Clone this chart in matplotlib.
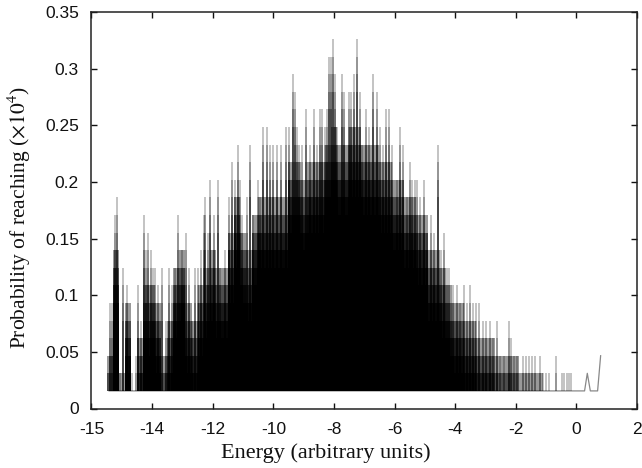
import matplotlib
matplotlib.use("Agg")
import matplotlib.pyplot as plt
import numpy as np

plt.rcParams['mathtext.fontset'] = 'stix'

LEVEL_STEP = 0.01553

spike_energy = [-15.38,-15.31,-15.21,-15.15,-15.05,-14.95,-14.82,-14.72,-14.65,-14.52,-14.46,-14.36,-14.26,-14.19,-14.13,-14.03,-13.96,-13.89,-13.79,-13.66,-13.53,-13.43,-13.33,-13.23,-13.13,-13.03,-12.94,-12.87,-12.77,-12.67,-12.57,-12.48,-12.38,-12.28,-12.24,-12.15,-12.08,-11.95,-11.82,-11.75,-11.58,-11.45,-11.35,-11.25,-11.16,-11.09,-11.02,-10.86,-10.76,-10.66,-10.49,-10.43,-10.33,-10.20,-10.10,-10.00,-9.87,-9.74,-9.57,-9.47,-9.34,-9.28,-9.21,-9.14,-9.04,-8.91,-8.78,-8.65,-8.55,-8.45,-8.38,-8.28,-8.22,-8.15,-8.09,-8.02,-7.97,-7.89,-7.72,-7.66,-7.49,-7.43,-7.33,-7.23,-7.13,-7.06,-6.93,-6.83,-6.70,-6.57,-6.47,-6.37,-6.27,-6.17,-6.07,-5.91,-5.81,-5.71,-5.58,-5.48,-5.41,-5.31,-5.25,-5.15,-5.02,-4.92,-4.79,-4.69,-4.55,-4.46,-4.36,-4.26,-4.19,-4.06,-3.93,-3.83,-3.70,-3.60,-3.50,-3.40,-3.30,-3.20,-3.07,-2.97,-2.84,-2.74,-2.61,-2.51,-2.38,-2.24,-2.15,-2.05,-1.95,-1.75,-1.65,-1.55,-1.45,-1.35,-1.19,-1.09,-0.99,-0.89,-0.66,-0.46,-0.40,-0.30,-0.23,-0.17]
spike_level = [6,6,11,12,2,8,7,3,2,3,7,5,11,9,10,9,8,8,7,8,5,8,7,8,11,9,8,10,8,5,8,8,9,11,12,10,13,11,13,8,9,12,14,13,15,13,11,12,15,11,13,12,16,16,15,15,15,15,16,16,19,18,16,15,15,17,15,17,15,17,17,16,17,20,20,21,19,16,19,18,18,18,19,21,18,15,17,16,19,18,16,15,17,17,15,13,16,15,12,14,13,13,13,12,13,10,11,10,15,9,10,8,8,7,7,6,7,6,7,6,6,6,5,5,5,4,5,3,3,5,4,3,3,3,3,3,3,3,3,2,2,2,3,2,2,2,2,2]

body_energy = [-15.4,-15.2,-15.0,-14.8,-14.6,-14.4,-14.2,-14.0,-13.8,-13.6,-13.4,-13.2,-13.0,-12.8,-12.6,-12.4,-12.2,-12.0,-11.8,-11.6,-11.4,-11.2,-11.0,-10.8,-10.6,-10.4,-10.2,-10.0,-9.8,-9.6,-9.4,-9.2,-9.0,-8.8,-8.6,-8.4,-8.2,-8.0,-7.8,-7.6,-7.4,-7.2,-7.0,-6.8,-6.6,-6.4,-6.2,-6.0,-5.8,-5.6,-5.4,-5.2,-5.0,-4.8,-4.6,-4.4,-4.2,-4.0,-3.8,-3.6,-3.4,-3.2,-3.0,-2.8,-2.6,-2.4,-2.2,-2.0,-1.8,-1.6,-1.4,-1.2,-1.0]
body_level = [3,9,2,6,1,4,7,7,6,3,5,8,9,6,5,7,8,9,8,8,10,12,10,9,11,12,12,12,12,12,14,14,13,14,14,14,15,16,15,15,16,16,15,15,15,14,14,13,13,12,12,11,11,9,9,8,7,6,6,5,5,4,4,4,3,3,3,3,2,2,2,2,1]

tail_energy = [-15.42,-0.15,-0.12,0.27,0.36,0.46,0.70,0.80]
tail_level = [1,1,1,1,2,1,1,3]

x_ticks = [-16,-14,-12,-10,-8,-6,-4,-2,0,2]
x_tick_labels = ['-15','-14','-12','-10','-8','-6','-4','-2','0','2']
y_ticks = [0,0.05,0.1,0.15,0.2,0.25,0.3,0.35]
y_tick_labels = ['0','0.05','0.1','0.15','0.2','0.25','0.3','0.35']

fig = plt.figure(figsize=(6.42,4.68),dpi=100)
ax = fig.add_axes([91.5/642,1-408.5/468,(637-91.5)/642,(408.5-12)/468])

ax.plot(tail_energy, np.array(tail_level)*LEVEL_STEP, color='#888888', lw=0.9, zorder=0.5)

be = np.array(body_energy); bl = np.array(body_level)
for off, a in [(0,0.4),(1,0.5),(2,0.65),(3,0.8),(4,0.9)]:
    tops = np.maximum(bl-off,1)*LEVEL_STEP
    ax.bar(be, tops-LEVEL_STEP, bottom=LEVEL_STEP, width=0.2, color='black', alpha=a, lw=0, align='center', zorder=1)

se = np.array(spike_energy); sl = np.array(spike_level)
for off, a in [(0,0.3),(1,0.3),(2,0.35),(3,0.45)]:
    ax.vlines(se, LEVEL_STEP, np.maximum(sl-off,1)*LEVEL_STEP, colors='black', alpha=a, lw=1.1, zorder=1.5)

ax.set_xlim(-16,2); ax.set_ylim(0,0.35)
ax.set_xticks(x_ticks); ax.set_xticklabels(x_tick_labels)
ax.set_yticks(y_ticks); ax.set_yticklabels(y_tick_labels)
ax.tick_params(direction='in',length=4,width=1,top=True,right=True,colors='#111111')
ax.tick_params(axis='x',pad=10)
ax.tick_params(axis='y',pad=9)
for lab in ax.get_xticklabels()+ax.get_yticklabels():
    lab.set_fontfamily('Liberation Sans'); lab.set_fontsize(12.5)
for s in ax.spines.values():
    s.set_linewidth(1.1); s.set_color('#222222')

fig.text(326/642,1-453/468,'Energy (arbitrary units)',family='Liberation Serif',fontsize=16,ha='center',va='center',color='#111111')
fig.text(19/642,1-217/468,r'Probability of reaching ($\times 10^4$)',family='Liberation Serif',fontsize=15.5,rotation=90,ha='center',va='center',color='#111111')

fig.savefig('out.png',dpi=100)
